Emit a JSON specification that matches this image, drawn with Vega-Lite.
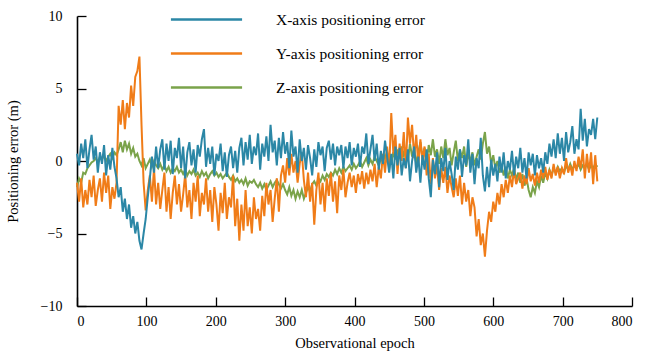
{
  "$schema": "https://vega.github.io/schema/vega-lite/v6.json",
  "width": 555,
  "height": 290,
  "autosize": {"type": "none"},
  "padding": {"left": 77, "top": 16, "right": 14, "bottom": 48},
  "background": "white",
  "config": {
    "view": {"stroke": null},
    "font": "Liberation Serif, DejaVu Serif, serif",
    "axis": {
      "grid": false,
      "domainColor": "black",
      "domainWidth": 1.6,
      "tickColor": "black",
      "tickWidth": 1.3,
      "tickSize": -9,
      "labelColor": "black",
      "labelFont": "Liberation Serif, DejaVu Serif, serif",
      "labelFontSize": 14,
      "titleFont": "Liberation Serif, DejaVu Serif, serif",
      "titleFontSize": 14.5,
      "titleFontWeight": "normal",
      "titleColor": "black"
    }
  },
  "data": {
    "values": [
      {"e":0,"X":0.5,"Y":-1.5,"Z":-1.8},{"e":3,"X":-0.3,"Y":-2.8,"Z":-1.2},{"e":6,"X":1.2,"Y":-1.2,"Z":-1.5},{"e":9,"X":0.2,"Y":-3.2,"Z":-0.8},{"e":12,"X":1.5,"Y":-2.0,"Z":-0.9},{"e":15,"X":-0.5,"Y":-3.0,"Z":-0.5},{"e":18,"X":0.8,"Y":-1.3,"Z":-0.3},{"e":21,"X":1.8,"Y":-2.5,"Z":-0.1},{"e":24,"X":0.1,"Y":-1.0,"Z":0.0},{"e":27,"X":1.0,"Y":-3.1,"Z":0.2},
      {"e":30,"X":-0.8,"Y":-2.0,"Z":-0.1},{"e":33,"X":0.6,"Y":-1.2,"Z":0.3},{"e":36,"X":-0.2,"Y":-2.8,"Z":0.1},{"e":39,"X":1.1,"Y":-0.8,"Z":0.4},{"e":42,"X":-1.0,"Y":-2.2,"Z":0.0},{"e":45,"X":0.4,"Y":-1.0,"Z":0.3},{"e":48,"X":-0.6,"Y":-3.3,"Z":0.5},{"e":51,"X":0.9,"Y":-1.8,"Z":0.2},{"e":54,"X":-0.4,"Y":-2.6,"Z":0.6},{"e":57,"X":-1.2,"Y":-1.5,"Z":0.4},
      {"e":60,"X":-2.5,"Y":3.8,"Z":0.8},{"e":63,"X":-1.8,"Y":2.5,"Z":1.3},{"e":66,"X":-3.5,"Y":4.2,"Z":0.6},{"e":69,"X":-2.6,"Y":2.2,"Z":1.4},{"e":72,"X":-4.0,"Y":4.0,"Z":0.8},{"e":75,"X":-3.0,"Y":3.0,"Z":1.2},{"e":78,"X":-4.6,"Y":5.2,"Z":0.5},{"e":81,"X":-3.8,"Y":3.8,"Z":0.9},{"e":84,"X":-5.0,"Y":5.8,"Z":0.3},{"e":87,"X":-4.2,"Y":6.2,"Z":0.5},
      {"e":90,"X":-5.5,"Y":7.2,"Z":0.0},{"e":93,"X":-6.1,"Y":2.5,"Z":-0.3},{"e":96,"X":-5.0,"Y":-1.5,"Z":0.2},{"e":99,"X":-4.0,"Y":-3.4,"Z":-0.5},{"e":102,"X":-2.5,"Y":-2.0,"Z":-0.2},{"e":105,"X":-1.2,"Y":-1.0,"Z":0.1},{"e":108,"X":0.3,"Y":-2.8,"Z":-0.4},{"e":111,"X":-0.8,"Y":-0.5,"Z":0.0},{"e":114,"X":1.0,"Y":-3.0,"Z":-0.3},{"e":117,"X":-0.5,"Y":-1.5,"Z":-0.5},
      {"e":120,"X":0.8,"Y":-3.3,"Z":-0.2},{"e":123,"X":1.5,"Y":-2.0,"Z":-0.6},{"e":126,"X":-0.6,"Y":-0.8,"Z":-0.3},{"e":129,"X":1.2,"Y":-3.5,"Z":-0.7},{"e":132,"X":0.0,"Y":-1.8,"Z":-0.4},{"e":135,"X":1.4,"Y":-4.0,"Z":-0.8},{"e":138,"X":-0.9,"Y":-2.2,"Z":-0.5},{"e":141,"X":0.9,"Y":-1.0,"Z":-0.7},{"e":144,"X":0.2,"Y":-3.0,"Z":-0.4},{"e":147,"X":1.6,"Y":-1.6,"Z":-0.8},
      {"e":150,"X":-0.5,"Y":-3.5,"Z":-0.6},{"e":153,"X":1.0,"Y":-2.3,"Z":-0.9},{"e":156,"X":-1.2,"Y":-0.9,"Z":-0.6},{"e":159,"X":0.6,"Y":-3.2,"Z":-1.0},{"e":162,"X":1.3,"Y":-2.0,"Z":-0.7},{"e":165,"X":-0.3,"Y":-4.0,"Z":-0.9},{"e":168,"X":0.8,"Y":-1.5,"Z":-0.6},{"e":171,"X":-0.8,"Y":-2.8,"Z":-1.0},{"e":174,"X":1.1,"Y":-1.0,"Z":-0.8},{"e":177,"X":0.3,"Y":-3.8,"Z":-1.1},
      {"e":180,"X":1.5,"Y":-2.2,"Z":-0.7},{"e":183,"X":2.2,"Y":-3.0,"Z":-1.0},{"e":186,"X":-0.4,"Y":-1.2,"Z":-0.8},{"e":189,"X":0.9,"Y":-3.5,"Z":-1.2},{"e":192,"X":-0.2,"Y":-2.0,"Z":-0.9},{"e":195,"X":1.0,"Y":-4.2,"Z":-0.7},{"e":198,"X":-1.0,"Y":-1.8,"Z":-1.0},{"e":201,"X":0.5,"Y":-3.0,"Z":-0.8},{"e":204,"X":0.0,"Y":-4.8,"Z":-1.1},{"e":207,"X":1.2,"Y":-2.2,"Z":-0.9},
      {"e":210,"X":-0.7,"Y":-3.6,"Z":-1.2},{"e":213,"X":0.6,"Y":-1.5,"Z":-1.0},{"e":216,"X":-1.1,"Y":-4.0,"Z":-0.8},{"e":219,"X":0.4,"Y":-2.5,"Z":-1.1},{"e":222,"X":1.0,"Y":-3.2,"Z":-1.3},{"e":225,"X":-0.5,"Y":-1.0,"Z":-1.0},{"e":228,"X":0.7,"Y":-4.5,"Z":-1.4},{"e":231,"X":-0.8,"Y":-2.6,"Z":-1.2},{"e":234,"X":0.9,"Y":-5.5,"Z":-1.5},{"e":237,"X":1.6,"Y":-3.0,"Z":-1.3},
      {"e":240,"X":-0.3,"Y":-4.8,"Z":-1.6},{"e":243,"X":1.3,"Y":-2.0,"Z":-1.2},{"e":246,"X":0.1,"Y":-4.5,"Z":-1.7},{"e":249,"X":1.8,"Y":-3.2,"Z":-1.4},{"e":252,"X":-0.2,"Y":-5.0,"Z":-1.5},{"e":255,"X":1.0,"Y":-2.5,"Z":-1.3},{"e":258,"X":0.4,"Y":-4.0,"Z":-1.6},{"e":261,"X":1.9,"Y":-3.3,"Z":-1.8},{"e":264,"X":-0.6,"Y":-4.8,"Z":-1.5},{"e":267,"X":1.2,"Y":-2.4,"Z":-1.9},
      {"e":270,"X":0.3,"Y":-3.8,"Z":-1.6},{"e":273,"X":1.7,"Y":-1.5,"Z":-2.0},{"e":276,"X":0.0,"Y":-3.0,"Z":-1.7},{"e":279,"X":2.5,"Y":-2.0,"Z":-1.4},{"e":282,"X":0.6,"Y":-4.2,"Z":-1.8},{"e":285,"X":1.4,"Y":-2.6,"Z":-1.5},{"e":288,"X":-0.3,"Y":-1.2,"Z":-1.3},{"e":291,"X":1.6,"Y":-3.5,"Z":-1.6},{"e":294,"X":0.2,"Y":-1.0,"Z":-1.9},{"e":297,"X":2.0,"Y":-0.3,"Z":-1.6},
      {"e":300,"X":0.5,"Y":-1.5,"Z":-2.0},{"e":303,"X":1.3,"Y":0.2,"Z":-2.3},{"e":306,"X":-0.5,"Y":-1.0,"Z":-1.8},{"e":309,"X":2.1,"Y":0.5,"Z":-2.4},{"e":312,"X":0.3,"Y":-0.8,"Z":-2.0},{"e":315,"X":1.0,"Y":0.0,"Z":-2.6},{"e":318,"X":-0.8,"Y":-1.5,"Z":-2.1},{"e":321,"X":1.5,"Y":-0.2,"Z":-2.5},{"e":324,"X":0.0,"Y":0.6,"Z":-2.0},{"e":327,"X":0.9,"Y":-1.3,"Z":-2.6},
      {"e":330,"X":-0.6,"Y":-2.5,"Z":-2.2},{"e":333,"X":1.1,"Y":-0.8,"Z":-1.8},{"e":336,"X":0.2,"Y":-2.8,"Z":-2.1},{"e":339,"X":-1.0,"Y":-1.5,"Z":-1.6},{"e":342,"X":0.8,"Y":-4.4,"Z":-1.4},{"e":345,"X":-0.4,"Y":-2.0,"Z":-1.7},{"e":348,"X":1.3,"Y":-0.8,"Z":-1.2},{"e":351,"X":0.4,"Y":-3.0,"Z":-1.4},{"e":354,"X":1.0,"Y":-1.5,"Z":-1.0},{"e":357,"X":-0.7,"Y":-3.5,"Z":-1.3},
      {"e":360,"X":0.9,"Y":-1.2,"Z":-0.9},{"e":363,"X":1.4,"Y":-2.4,"Z":-1.1},{"e":366,"X":0.1,"Y":-0.8,"Z":-0.8},{"e":369,"X":1.2,"Y":-2.8,"Z":-1.0},{"e":372,"X":-0.3,"Y":-1.4,"Z":-0.6},{"e":375,"X":1.0,"Y":-3.6,"Z":-0.9},{"e":378,"X":0.4,"Y":-1.0,"Z":-0.5},{"e":381,"X":1.1,"Y":-2.0,"Z":-0.8},{"e":384,"X":-0.5,"Y":-0.6,"Z":-0.4},{"e":387,"X":1.0,"Y":-2.5,"Z":-0.7},
      {"e":390,"X":0.2,"Y":-1.5,"Z":-0.5},{"e":393,"X":1.3,"Y":-0.8,"Z":-0.3},{"e":396,"X":-0.3,"Y":-1.8,"Z":-0.6},{"e":399,"X":0.9,"Y":-1.0,"Z":-0.2},{"e":402,"X":0.3,"Y":-2.2,"Z":-0.5},{"e":405,"X":1.2,"Y":-0.9,"Z":-0.3},{"e":408,"X":-0.4,"Y":-1.6,"Z":0.0},{"e":411,"X":1.0,"Y":-0.7,"Z":-0.4},{"e":414,"X":0.5,"Y":-1.9,"Z":-0.1},{"e":417,"X":1.9,"Y":-0.8,"Z":0.2},
      {"e":420,"X":-0.2,"Y":-1.6,"Z":-0.3},{"e":423,"X":0.8,"Y":-0.6,"Z":0.1},{"e":426,"X":1.8,"Y":-1.4,"Z":-0.2},{"e":429,"X":0.0,"Y":-0.2,"Z":0.3},{"e":432,"X":1.2,"Y":-1.8,"Z":0.0},{"e":435,"X":-0.6,"Y":-0.4,"Z":-0.3},{"e":438,"X":0.7,"Y":-1.2,"Z":0.2},{"e":441,"X":-0.2,"Y":0.5,"Z":-0.1},{"e":444,"X":1.4,"Y":-0.8,"Z":0.4},{"e":447,"X":0.3,"Y":1.0,"Z":0.0},
      {"e":450,"X":-0.8,"Y":-0.6,"Z":0.3},{"e":453,"X":0.5,"Y":3.3,"Z":-0.2},{"e":456,"X":-1.2,"Y":0.5,"Z":0.6},{"e":459,"X":1.0,"Y":1.8,"Z":0.1},{"e":462,"X":-0.3,"Y":-0.9,"Z":0.8},{"e":465,"X":0.9,"Y":1.2,"Z":0.2},{"e":468,"X":-1.0,"Y":0.0,"Z":1.0},{"e":471,"X":0.2,"Y":2.0,"Z":0.4},{"e":474,"X":-0.5,"Y":-0.5,"Z":0.9},{"e":477,"X":0.8,"Y":3.0,"Z":0.0},
      {"e":480,"X":-1.4,"Y":1.2,"Z":1.2},{"e":483,"X":0.0,"Y":2.5,"Z":0.3},{"e":486,"X":1.0,"Y":0.2,"Z":0.8},{"e":489,"X":-0.8,"Y":1.8,"Z":-0.2},{"e":492,"X":0.3,"Y":-0.3,"Z":0.6},{"e":495,"X":-1.5,"Y":1.5,"Z":1.3},{"e":498,"X":0.4,"Y":0.0,"Z":0.2},{"e":501,"X":-0.6,"Y":1.0,"Z":0.9},{"e":504,"X":0.8,"Y":-1.0,"Z":-0.1},{"e":507,"X":-1.2,"Y":0.5,"Z":1.1},
      {"e":510,"X":-2.5,"Y":-1.6,"Z":0.4},{"e":513,"X":0.1,"Y":0.2,"Z":1.5},{"e":516,"X":-0.9,"Y":-1.2,"Z":0.3},{"e":519,"X":0.6,"Y":-0.3,"Z":0.8},{"e":522,"X":-1.8,"Y":-2.0,"Z":-0.2},{"e":525,"X":0.2,"Y":-0.5,"Z":1.0},{"e":528,"X":-0.7,"Y":-1.5,"Z":0.2},{"e":531,"X":0.9,"Y":-0.4,"Z":1.5},{"e":534,"X":-1.3,"Y":-2.2,"Z":0.4},{"e":537,"X":0.0,"Y":-1.0,"Z":0.9},
      {"e":540,"X":-0.9,"Y":-1.8,"Z":-0.3},{"e":543,"X":-2.0,"Y":-2.5,"Z":0.6},{"e":546,"X":0.3,"Y":-1.2,"Z":1.4},{"e":549,"X":-0.6,"Y":-2.4,"Z":0.0},{"e":552,"X":0.8,"Y":-1.0,"Z":0.8},{"e":555,"X":-1.1,"Y":-3.0,"Z":0.2},{"e":558,"X":0.4,"Y":-1.5,"Z":1.0},{"e":561,"X":-0.3,"Y":-2.8,"Z":-0.4},{"e":564,"X":1.5,"Y":-2.0,"Z":0.5},{"e":567,"X":-0.8,"Y":-3.8,"Z":0.0},
      {"e":570,"X":0.5,"Y":-2.5,"Z":0.6},{"e":573,"X":-1.6,"Y":-3.2,"Z":-0.3},{"e":576,"X":0.2,"Y":-5.2,"Z":0.3},{"e":579,"X":-0.5,"Y":-4.0,"Z":0.8},{"e":582,"X":1.6,"Y":-5.8,"Z":0.1},{"e":585,"X":-1.0,"Y":-5.0,"Z":1.2},{"e":588,"X":-2.1,"Y":-6.6,"Z":2.0},{"e":591,"X":-0.4,"Y":-4.8,"Z":0.5},{"e":594,"X":-1.8,"Y":-3.5,"Z":1.0},{"e":597,"X":0.1,"Y":-4.2,"Z":-0.2},
      {"e":600,"X":-1.0,"Y":-2.8,"Z":0.4},{"e":603,"X":-0.2,"Y":-3.5,"Z":-0.5},{"e":606,"X":-1.4,"Y":-2.2,"Z":0.0},{"e":609,"X":0.3,"Y":-3.0,"Z":-0.8},{"e":612,"X":-0.8,"Y":-1.6,"Z":-0.3},{"e":615,"X":0.6,"Y":-2.5,"Z":-1.0},{"e":618,"X":-1.2,"Y":-1.3,"Z":-0.4},{"e":621,"X":0.0,"Y":-2.2,"Z":-1.2},{"e":624,"X":-0.6,"Y":-1.0,"Z":-0.6},{"e":627,"X":0.7,"Y":-1.8,"Z":-1.0},
      {"e":630,"X":-1.0,"Y":-0.6,"Z":-0.5},{"e":633,"X":0.3,"Y":-1.6,"Z":-1.3},{"e":636,"X":-0.5,"Y":-1.2,"Z":-0.8},{"e":639,"X":0.9,"Y":-0.8,"Z":-1.5},{"e":642,"X":-0.8,"Y":-1.9,"Z":-0.9},{"e":645,"X":0.2,"Y":-1.0,"Z":-1.7},{"e":648,"X":-1.2,"Y":-1.6,"Z":-1.2},{"e":651,"X":0.6,"Y":-0.5,"Z":-2.0},{"e":654,"X":-0.3,"Y":-1.4,"Z":-2.5},{"e":657,"X":0.5,"Y":-0.9,"Z":-1.8},
      {"e":660,"X":-1.0,"Y":-1.7,"Z":-2.2},{"e":663,"X":0.4,"Y":-0.8,"Z":-1.4},{"e":666,"X":-0.5,"Y":-1.5,"Z":-1.8},{"e":669,"X":0.2,"Y":-0.6,"Z":-1.0},{"e":672,"X":-0.8,"Y":-1.2,"Z":-1.5},{"e":675,"X":0.6,"Y":-0.4,"Z":-0.8},{"e":678,"X":-0.2,"Y":-1.3,"Z":-1.2},{"e":681,"X":1.2,"Y":-0.6,"Z":-0.6},{"e":684,"X":0.3,"Y":-1.2,"Z":-1.0},{"e":687,"X":1.5,"Y":-0.2,"Z":-0.5},
      {"e":690,"X":0.2,"Y":-1.0,"Z":-0.8},{"e":693,"X":1.9,"Y":-0.4,"Z":-0.4},{"e":696,"X":0.5,"Y":-1.2,"Z":-0.7},{"e":699,"X":1.6,"Y":-0.5,"Z":-0.5},{"e":702,"X":0.0,"Y":-0.9,"Z":-0.8},{"e":705,"X":2.0,"Y":0.2,"Z":-0.3},{"e":708,"X":0.6,"Y":-0.8,"Z":-0.6},{"e":711,"X":1.3,"Y":-0.3,"Z":-0.2},{"e":714,"X":2.4,"Y":-1.0,"Z":-0.6},{"e":717,"X":0.5,"Y":0.0,"Z":-0.3},
      {"e":720,"X":1.5,"Y":-0.7,"Z":-0.5},{"e":723,"X":0.8,"Y":0.3,"Z":-0.2},{"e":726,"X":3.6,"Y":-0.5,"Z":-0.6},{"e":729,"X":1.4,"Y":0.8,"Z":-0.3},{"e":732,"X":2.9,"Y":-1.2,"Z":-0.5},{"e":735,"X":1.0,"Y":0.5,"Z":-0.2},{"e":738,"X":2.2,"Y":-0.8,"Z":-0.6},{"e":741,"X":1.8,"Y":0.6,"Z":-0.3},{"e":744,"X":2.9,"Y":-1.6,"Z":-0.5},{"e":747,"X":1.5,"Y":0.4,"Z":-0.2},
      {"e":750,"X":3.0,"Y":-1.4,"Z":-0.4}
    ]
  },
  "transform": [{"fold": ["X", "Y", "Z"], "as": ["k", "v"]}],
  "encoding": {
    "x": {
      "field": "e", "type": "quantitative",
      "scale": {"domain": [0, 800], "nice": false},
      "axis": {"values": [0,100,200,300,400,500,600,700,800], "title": "Observational epoch", "labelPadding": 17, "titlePadding": 8}
    },
    "y": {
      "field": "v", "type": "quantitative",
      "scale": {"domain": [-10, 10], "nice": false},
      "axis": {"values": [-10,-5,0,5,10], "title": "Positioning error (m)", "labelPadding": 24, "titlePadding": 20}
    },
    "color": {
      "field": "k", "type": "nominal",
      "scale": {"domain": ["X", "Y", "Z"], "range": ["#2b87a6", "#f07c18", "#7aa34a"]},
      "legend": {
        "title": null,
        "orient": "none",
        "legendX": 112,
        "legendY": -14,
        "symbolType": "M-2.25,0H2.25",
        "symbolSize": 1000,
        "symbolStrokeWidth": 2.5,
        "symbolFillColor": "transparent",
        "labelExpr": "datum.label + '-axis positioning error'",
        "labelFont": "Liberation Serif, DejaVu Serif, serif",
        "labelFontSize": 15.5,
        "labelColor": "black",
        "labelOffset": 52,
        "labelLimit": 300,
        "rowPadding": 8
      }
    }
  },
  "layer": [
    {"transform": [{"filter": "datum.k === 'Z'"}], "mark": {"type": "line", "strokeWidth": 2}},
    {"transform": [{"filter": "datum.k === 'Y'"}], "mark": {"type": "line", "strokeWidth": 2}},
    {"transform": [{"filter": "datum.k === 'X'"}], "mark": {"type": "line", "strokeWidth": 2}}
  ]
}
